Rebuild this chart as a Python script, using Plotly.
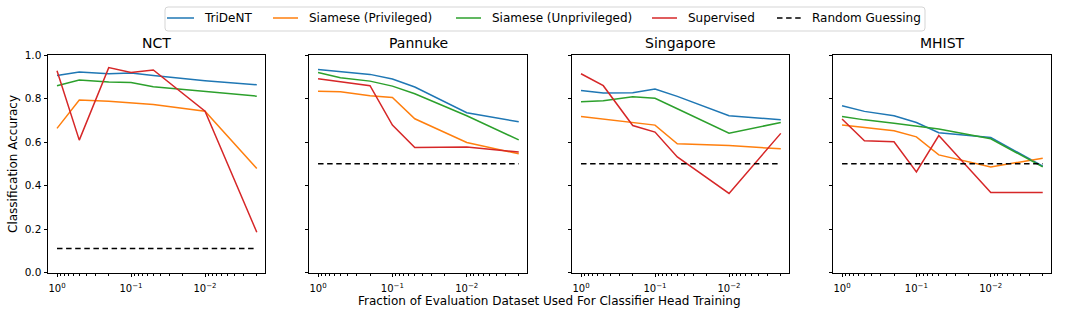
import plotly.graph_objects as go
from plotly.subplots import make_subplots

fractions = [1, 0.5, 0.2, 0.1, 0.05, 0.01, 0.002]
datasets = ["NCT", "Pannuke", "Singapore", "MHIST"]
series_names = ["TriDeNT", "Siamese (Privileged)", "Siamese (Unprivileged)", "Supervised"]
random_name = "Random Guessing"
colors = ["#1f77b4", "#ff7f0e", "#2ca02c", "#d62728"]

trident = {
    "NCT": [0.906, 0.922, 0.914, 0.917, 0.906, 0.882, 0.863],
    "Pannuke": [0.933, 0.925, 0.911, 0.890, 0.853, 0.735, 0.693],
    "Singapore": [0.837, 0.825, 0.827, 0.844, 0.810, 0.721, 0.702],
    "MHIST": [0.767, 0.741, 0.721, 0.690, 0.643, 0.621, 0.489],
}
siamese_priv = {
    "NCT": [0.663, 0.793, 0.787, 0.781, 0.773, 0.742, 0.479],
    "Pannuke": [0.834, 0.831, 0.813, 0.805, 0.707, 0.598, 0.546],
    "Singapore": [0.718, 0.706, 0.693, 0.678, 0.592, 0.584, 0.569],
    "MHIST": [0.678, 0.667, 0.652, 0.624, 0.541, 0.486, 0.526],
}
siamese_unpriv = {
    "NCT": [0.859, 0.885, 0.876, 0.874, 0.854, 0.833, 0.811],
    "Pannuke": [0.920, 0.896, 0.880, 0.857, 0.822, 0.721, 0.610],
    "Singapore": [0.785, 0.790, 0.808, 0.801, 0.753, 0.641, 0.690],
    "MHIST": [0.718, 0.702, 0.687, 0.675, 0.660, 0.615, 0.486],
}
supervised = {
    "NCT": [0.928, 0.609, 0.942, 0.920, 0.931, 0.742, 0.186],
    "Pannuke": [0.891, 0.876, 0.859, 0.678, 0.575, 0.577, 0.554],
    "Singapore": [0.914, 0.859, 0.676, 0.646, 0.532, 0.364, 0.640],
    "MHIST": [0.706, 0.606, 0.601, 0.463, 0.630, 0.368, 0.368],
}
random_guess = {"NCT": 0.111, "Pannuke": 0.5, "Singapore": 0.5, "MHIST": 0.5}

all_series = [trident, siamese_priv, siamese_unpriv, supervised]

x_tickvals = [1, 0.1, 0.01]
x_ticktext = ["10<sup>0</sup>", "10<sup>−1</sup>", "10<sup>−2</sup>"]
y_tickvals = [0.0, 0.2, 0.4, 0.6, 0.8, 1.0]
y_ticktext = ["0.0", "0.2", "0.4", "0.6", "0.8", "1.0"]

minor_vals = []
for dec in [1, 0.1, 0.01, 0.001]:
    for m in range(2, 10):
        minor_vals.append(dec * m)

W, H = 1066, 314
x_domains_px = [(48, 265), (309, 527), (572, 789), (833, 1051)]
y_top_px, y_bot_px = 55, 272.7
DASH = "5.5px,3.6px"

fig = make_subplots(rows=1, cols=4)

font_family = "DejaVu Sans"

for i, ds in enumerate(datasets):
    col = i + 1
    for s, name, c in zip(all_series, series_names, colors):
        fig.add_trace(go.Scatter(
            x=fractions, y=s[ds], mode="lines", name=name,
            line=dict(color=c, width=1.5), showlegend=False), row=1, col=col)
    fig.add_trace(go.Scatter(
        x=[fractions[0], fractions[-1]], y=[random_guess[ds]] * 2, mode="lines",
        name=random_name, line=dict(color="black", width=1.5, dash=DASH),
        showlegend=False), row=1, col=col)

for i, ds in enumerate(datasets):
    xa = "xaxis" if i == 0 else f"xaxis{i+1}"
    ya = "yaxis" if i == 0 else f"yaxis{i+1}"
    x0, x1 = x_domains_px[i]
    fig.layout[xa].update(
        domain=[x0 / W, x1 / W], type="log", range=[0.1216, -2.81],
        tickvals=x_tickvals, ticktext=x_ticktext, ticks="outside", ticklen=3.5,
        tickcolor="black", showline=True, linecolor="black", linewidth=1,
        mirror=True, showgrid=False, zeroline=False, ticklabelstandoff=3,
        automargin=False,
        tickfont=dict(family=font_family, size=10, color="black"),
        minor=dict(tickvals=minor_vals, ticks="outside", ticklen=2, tickcolor="black", showgrid=False),
    )
    fig.layout[ya].update(
        domain=[1 - y_bot_px / H, 1 - y_top_px / H], range=[0, 1],
        tickvals=y_tickvals, ticktext=y_ticktext, ticks="outside", ticklen=3.5,
        tickcolor="black", showline=True, linecolor="black", linewidth=1,
        mirror=True, showgrid=False, zeroline=False, showticklabels=(i == 0),
        automargin=False,
        tickfont=dict(family=font_family, size=10.5, color="black"),
    )
    fig.add_annotation(
        text=ds, x=(x0 + x1) / 2 / W, y=1 - y_top_px / H, xref="paper", yref="paper",
        xanchor="center", yanchor="bottom", yshift=2, showarrow=False,
        font=dict(family=font_family, size=14, color="black"))

fig.add_annotation(
    text="Fraction of Evaluation Dataset Used For Classifier Head Training",
    x=549 / W, y=1 - 301 / H, xref="paper", yref="paper", xanchor="center", yanchor="middle",
    showarrow=False, font=dict(family=font_family, size=12, color="black"))
fig.add_annotation(
    text="Classification Accuracy", x=13 / W, y=1 - 164 / H, xref="paper", yref="paper",
    xanchor="center", yanchor="middle", textangle=-90, showarrow=False,
    font=dict(family=font_family, size=12, color="black"))

# ---- legend drawn as shapes + text (matplotlib-like layout) ----
lx0, lx1, ly0, ly1, r = 165, 925, 7, 31, 3


def px(xp):
    return xp / W


def py(yp):
    return 1 - yp / H


path = (
    f"M {px(lx0 + r)} {py(ly0)} L {px(lx1 - r)} {py(ly0)} "
    f"Q {px(lx1)} {py(ly0)} {px(lx1)} {py(ly0 + r)} "
    f"L {px(lx1)} {py(ly1 - r)} Q {px(lx1)} {py(ly1)} {px(lx1 - r)} {py(ly1)} "
    f"L {px(lx0 + r)} {py(ly1)} Q {px(lx0)} {py(ly1)} {px(lx0)} {py(ly1 - r)} "
    f"L {px(lx0)} {py(ly0 + r)} Q {px(lx0)} {py(ly0)} {px(lx0 + r)} {py(ly0)} Z"
)
fig.add_shape(type="path", path=path, xref="paper", yref="paper",
              line=dict(color="#d5d5d5", width=1), fillcolor="rgba(255,255,255,0.8)")

legend_names = series_names + [random_name]
legend_colors = colors + ["black"]
legend_dash = ["solid"] * 4 + [DASH]
legend_pos = [(167, 194, 203), (273, 298, 308), (456, 481, 491), (652, 677, 687), (777, 801, 811)]
ly = 18
for name, c, d, (a, b, t) in zip(legend_names, legend_colors, legend_dash, legend_pos):
    fig.add_shape(type="line", xref="paper", yref="paper", x0=px(a), x1=px(b), y0=py(ly), y1=py(ly),
                  line=dict(color=c, width=1.5, dash=d))
    fig.add_annotation(text=name, x=px(t - 1), y=py(ly), xref="paper", yref="paper",
                       xanchor="left", yanchor="middle", showarrow=False,
                       font=dict(family=font_family, size=12, color="black"))

fig.update_layout(
    width=W, height=H, margin=dict(l=0, r=0, t=0, b=0, pad=0, autoexpand=False),
    paper_bgcolor="white", plot_bgcolor="white",
    font=dict(family=font_family, size=11, color="black"),
    showlegend=False,
)

fig.write_html("out.html", config={"displayModeBar": False},
               post_script="document.body.style.margin='0px';")
